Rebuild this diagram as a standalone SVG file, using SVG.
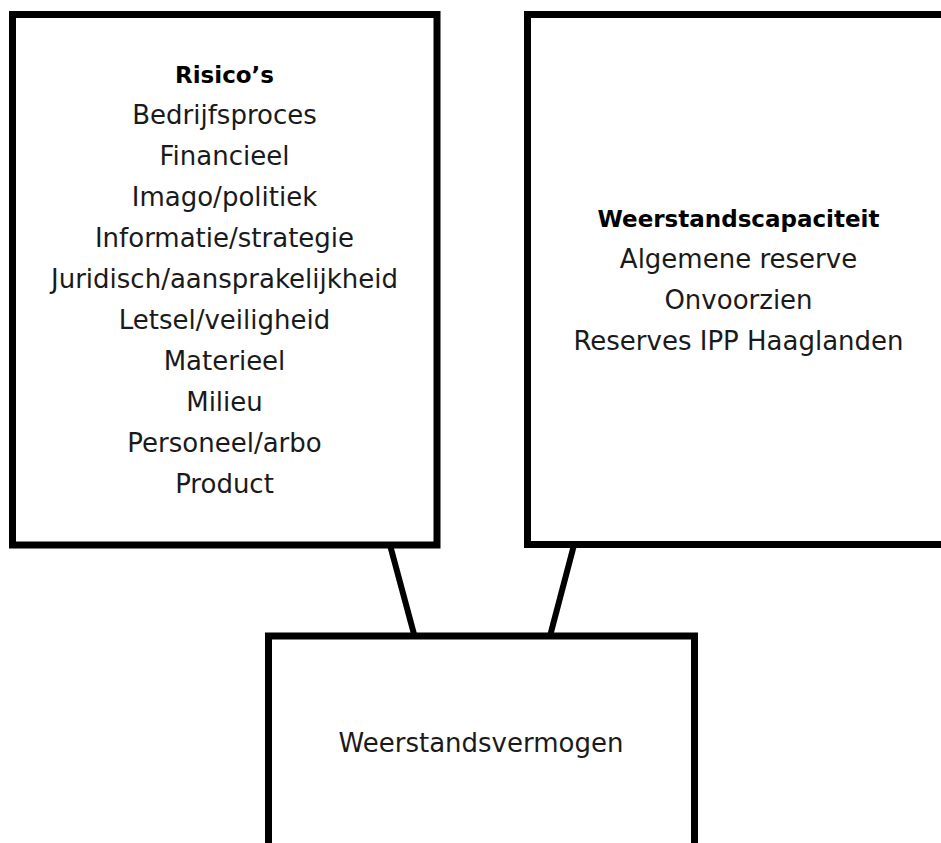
<svg xmlns="http://www.w3.org/2000/svg" width="941" height="843" viewBox="0 0 941 843">
<style>
.box{fill:#fff;stroke:#000;stroke-width:7}
.conn{stroke:#000;stroke-width:6;fill:none}
text{font-family:"DejaVu Sans","Liberation Sans",sans-serif;font-size:26px;fill:#1a1a1a;text-anchor:middle}
.b{font-weight:bold;font-size:23px;fill:#000}
</style>
<rect width="941" height="843" fill="#fff"/>
<g id="connectors">
<line class="conn" x1="390" y1="545" x2="414.5" y2="636"/>
<line class="conn" x1="574" y1="545" x2="550" y2="636"/>
</g>
<g id="risicos">
<rect class="box" x="12.5" y="14.5" width="424.5" height="530.5"/>
<text class="b" x="224.5" y="83">Risico’s</text>
<text x="224.5" y="124">Bedrijfsproces</text>
<text x="224.5" y="165">Financieel</text>
<text x="224.5" y="206">Imago/politiek</text>
<text x="224.5" y="247">Informatie/strategie</text>
<text x="224.5" y="288">Juridisch/aansprakelijkheid</text>
<text x="224.5" y="329">Letsel/veiligheid</text>
<text x="224.5" y="370">Materieel</text>
<text x="224.5" y="411">Milieu</text>
<text x="224.5" y="452">Personeel/arbo</text>
<text x="224.5" y="493">Product</text>
</g>
<g id="weerstandscapaciteit">
<rect class="box" x="527.5" y="14.5" width="422" height="530"/>
<text class="b" x="738.5" y="227">Weerstandscapaciteit</text>
<text x="738.5" y="268">Algemene reserve</text>
<text x="738.5" y="309">Onvoorzien</text>
<text x="738.5" y="350">Reserves IPP Haaglanden</text>
</g>
<g id="weerstandsvermogen">
<rect class="box" x="268.5" y="636" width="426" height="230"/>
<text x="481" y="752">Weerstandsvermogen</text>
</g>
</svg>
